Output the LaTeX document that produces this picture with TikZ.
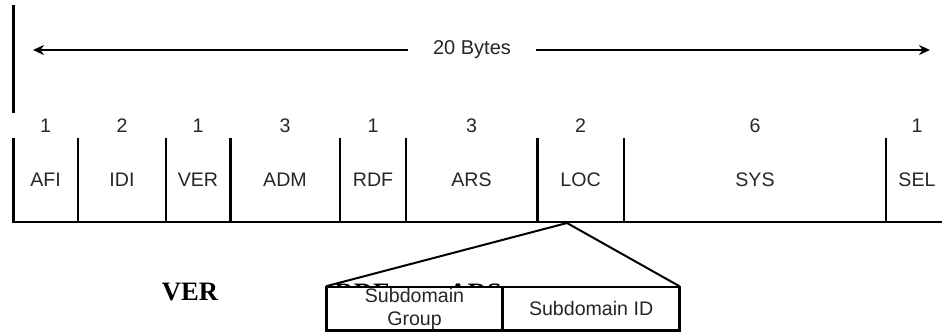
\documentclass[tikz,border=0pt]{standalone}
\usepackage{fontspec}
\setmainfont{Liberation Sans}
\newfontfamily\serifbold{Liberation Serif}
\usetikzlibrary{arrows.meta}

\begin{document}
\begin{tikzpicture}[x=0.5pt, y=-0.5pt, >={Stealth[length=5.5pt,width=5pt]},
  field/.style={font=\fontsize{9.8}{11}\selectfont, text=black!85, inner sep=0pt},
  sub/.style={draw, line width=.8pt, fill=white, minimum width=87.5pt, minimum height=21.5pt, inner sep=0pt, align=center, font=\fontsize{9.8}{11.5}\selectfont, text=black!85},
  big/.style={font=\serifbold\bfseries\fontsize{13.3}{15}\selectfont}]

\useasboundingbox (0,0) rectangle (942,333);

% overall length
\draw[line width=1.5pt] (13,5) -- (13,113);
\node[field, font=\fontsize{10}{12}\selectfont, inner xsep=12.5pt] (bytes) at (472,50) {20 Bytes};
\coordinate (ltip) at (33,50);
\coordinate (rtip) at (930,50);
\draw[->, line width=1pt] (bytes) -- (ltip);
\draw[->, line width=1pt] (bytes) -- (rtip);

% fields
\draw[line width=1.5pt] (13,138) -- (13,223);
\draw[line width=.9pt] (13,222) -- (942,222);
\draw[line width=.9pt] (78,138) -- (78,222);
\draw[line width=.9pt] (166,138) -- (166,222);
\draw[line width=1.5pt] (230,138) -- (230,222);
\draw[line width=.9pt] (340,138) -- (340,222);
\draw[line width=.9pt] (406,138) -- (406,222);
\draw[line width=1.5pt] (537,138) -- (537,222);
\draw[line width=.9pt] (624,138) -- (624,222);
\draw[line width=.9pt] (886,138) -- (886,222);

\node[field] (nafi) at (45.5,126) {1};
\node[field] (nidi) at (122,126) {2};
\node[field] (nver) at (198,126) {1};
\node[field] (nadm) at (285,126) {3};
\node[field] (nrdf) at (373,126) {1};
\node[field] (nars) at (471.5,126) {3};
\node[field] (nloc) at (580.5,126) {2};
\node[field] (nsys) at (755,126) {6};
\node[field] (nsel) at (917,126) {1};

\node[field] (afi) at (45.5,180) {AFI};
\node[field] (idi) at (122,180) {IDI};
\node[field] (ver) at (198,180) {VER};
\node[field] (adm) at (285,180) {ADM};
\node[field] (rdf) at (373,180) {RDF};
\node[field] (ars) at (471.5,180) {ARS};
\node[field] (loc) at (580.5,180) {LOC};
\node[field] (sys) at (755,180) {SYS};
\node[field] (sel) at (917,180) {SEL};

% LOC split
\node[big] (bigver) at (190,292) {VER};
\node[big] (bigrdf) at (362,293) {RDF};
\node[big] (bigars) at (475,293) {ARS};

\node[sub] (subgrp) at (414.5,308.5) {Subdomain\\Group};
\node[sub, anchor=west] (subid) at (subgrp.east) {Subdomain ID};
\draw[line width=1.4pt] (subgrp.north west) |- (subid.south east) -- (subid.north east);
\coordinate (loczoom) at (567,223);
\draw[line width=1pt] (loczoom) -- (subgrp.north west);
\draw[line width=1pt] (loczoom) -- (subid.north east);
\end{tikzpicture}
\end{document}
